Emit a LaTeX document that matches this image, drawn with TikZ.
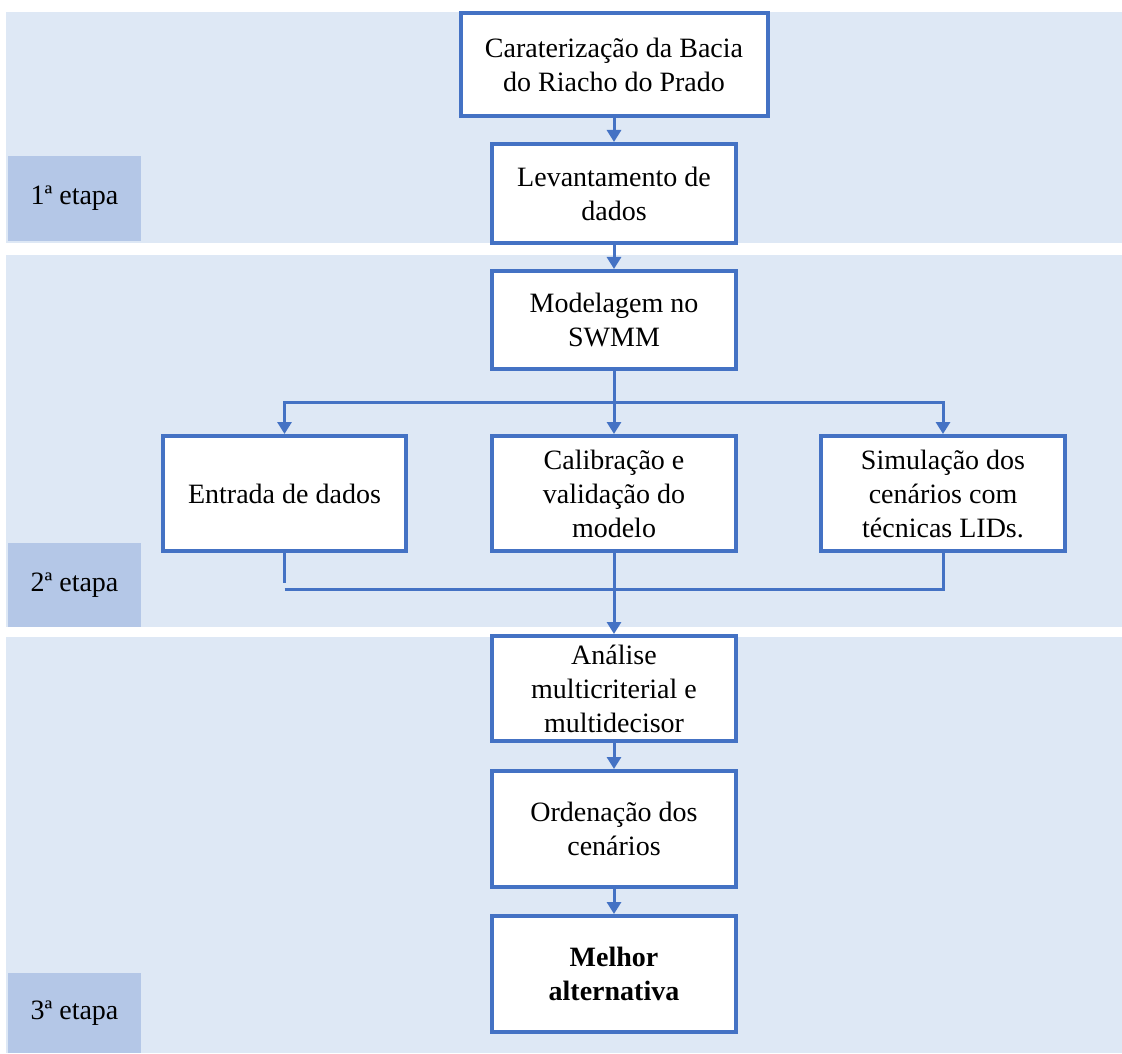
\documentclass[tikz,border=0pt]{standalone}
\usepackage{fontspec}
\setmainfont{Liberation Serif}
\usetikzlibrary{arrows.meta}
\definecolor{bandblue}{HTML}{DEE8F5}
\definecolor{tagblue}{HTML}{B4C7E7}
\definecolor{lineblue}{HTML}{4472C4}
\begin{document}
\begin{tikzpicture}[x=0.5pt,y=-0.5pt,
  box/.style={draw=lineblue, line width=2pt, fill=white, align=center,
    font=\fontsize{14}{17}\selectfont, inner sep=0pt},
  tag/.style={fill=tagblue, align=center, font=\fontsize{14}{17}\selectfont, inner sep=0pt},
  conn/.style={draw=lineblue, line width=1.5pt},
  arr/.style={conn, -{Triangle[width=7pt,length=6pt]}}]
\useasboundingbox (0,0) rectangle (1122,1053);
% bands
\fill[bandblue] (6,12) rectangle (1122,243);
\fill[bandblue] (6,255) rectangle (1122,627);
\fill[bandblue] (6,637) rectangle (1122,1053);
% stage tags
\node[tag, minimum width=66.5pt, minimum height=42.5pt] (t1) at (74.5,198.5) {1ª etapa};
\node[tag, minimum width=66.5pt, minimum height=42pt] (t2) at (74.5,585) {2ª etapa};
\node[tag, minimum width=66.5pt, minimum height=40pt] (t3) at (74.5,1013) {3ª etapa};
% boxes
\node[box, minimum width=153.5pt, minimum height=51.5pt] (b1) at (614,64.5) {Caraterização da Bacia\\do Riacho do Prado};
\node[box, minimum width=122pt, minimum height=49.5pt] (b2) at (614,193.5) {Levantamento de\\dados};
\node[box, minimum width=122pt, minimum height=49pt] (b3) at (614,320) {Modelagem no\\SWMM};
\node[box, minimum width=121.5pt, minimum height=57.5pt] (b4) at (284.5,493.5) {Entrada de dados};
\node[box, minimum width=122pt, minimum height=57.5pt] (b5) at (614,493.5) {Calibração e\\validação do\\modelo};
\node[box, minimum width=122pt, minimum height=57.5pt] (b6) at (943,493.5) {Simulação dos\\cenários com\\técnicas LIDs.};
\node[box, minimum width=122pt, minimum height=52.5pt] (b7) at (614,688.5) {Análise\\multicriterial e\\multidecisor};
\node[box, minimum width=122pt, minimum height=58pt] (b8) at (614,829) {Ordenação dos\\cenários};
\node[box, minimum width=122pt, minimum height=58pt, font=\fontsize{14}{17}\selectfont\bfseries] (b9) at (614,974) {Melhor\\alternativa};
% connectors
\draw[arr] (b1) -- (b2);
\draw[arr] (b2) -- (b3);
\coordinate (split) at (614,402);
\draw[conn] (b3.south) -- (split);
\draw[arr] (split) -| (b4.north);
\draw[arr] (split) -- (b5.north);
\draw[arr] (split) -| (b6.north);
\coordinate (lend) at (284.5,583);
\coordinate (mL) at (284.5,589);
\coordinate (merge) at (614,589);
\draw[conn] (b4.south) -- (lend);
\draw[conn] (mL) -- (merge) -| (b6.south);
\draw[arr] (b5.south) -- (b7.north);
\draw[arr] (b7) -- (b8);
\draw[arr] (b8) -- (b9);
\end{tikzpicture}
\end{document}
